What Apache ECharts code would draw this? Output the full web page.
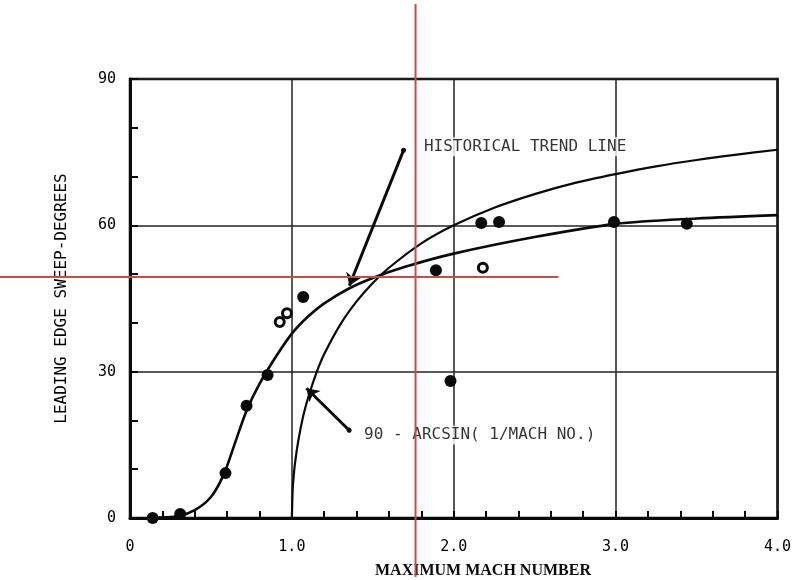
<!DOCTYPE html>
<html>
<head>
<meta charset="utf-8">
<script src="https://cdn.jsdelivr.net/npm/echarts@6/dist/echarts.min.js"></script>
<style>
  html, body { margin: 0; padding: 0; background: #fff; }
  #chart { width: 794px; height: 580px; }
</style>
</head>
<body>
<div id="chart"></div>
<script>
// Leading-edge sweep vs. maximum Mach number

const xTickLabels = ['0', '1.0', '2.0', '3.0', '4.0'];
const yTickLabels = ['0', '30', '60', '90'];

// Measured aircraft (filled symbols)
const filledMach  = [0.14, 0.31, 0.59, 0.72, 0.85, 1.07, 1.89, 1.98, 2.17, 2.28, 2.99, 3.44];
const filledSweep = [0.0, 0.8, 9.2, 23.0, 29.3, 45.3, 50.8, 28.1, 60.5, 60.7, 60.7, 60.3];

// Open symbols
const openMach  = [0.925, 0.97, 2.18];
const openSweep = [40.2, 42.0, 51.3];

// Historical trend line
const trendMach  = [0.13, 0.30, 0.40, 0.50, 0.58, 0.65, 0.72, 0.80, 0.90, 1.00, 1.10, 1.20, 1.35, 1.50, 1.70, 2.00, 2.50, 3.00, 3.50, 4.00];
const trendSweep = [0.0, 0.4, 1.6, 4.3, 9.0, 15.5, 22.0, 27.5, 33.0, 37.8, 41.3, 44.0, 47.0, 49.2, 51.5, 54.2, 57.6, 60.3, 61.4, 62.1];

// 90 - arcsin(1/M) curve
const machAngleMach  = [1.0, 1.005, 1.01, 1.02, 1.04, 1.07, 1.10, 1.15, 1.20, 1.30, 1.40, 1.50, 1.60, 1.80, 2.00, 2.25, 2.50, 2.75, 3.00, 3.25, 3.50, 3.75, 4.00];
const machAngleSweep = [0.0, 5.7, 8.1, 11.4, 15.9, 20.9, 24.6, 29.6, 33.6, 39.7, 44.4, 48.2, 51.3, 56.3, 60.0, 63.6, 66.4, 68.7, 70.5, 72.1, 73.4, 74.5, 75.5];

// Callout text and leader arrows (from label end to curve)
const trendLabel = { text: 'HISTORICAL TREND LINE', at: [1.81, 76.1] };
const angleLabel = { text: '90 - ARCSIN( 1/MACH NO.)', at: [1.44, 17.0] };
const trendArrow = [[1.69, 75.4], [1.355, 47.6]];
const angleArrow = [[1.354, 18.0], [1.09, 26.6]];

// Reading cross-hair (Mach, sweep) and the end of its horizontal arm
const crossMach = 1.764;
const crossSweep = 49.4;
const crossArmEnd = 2.646;

const zip = (a, b) => a.map((v, i) => [v, b[i]]);
const ink = '#0a0a0a';
const mono = '"DejaVu Sans Mono", "Liberation Mono", monospace';

const chart = echarts.init(document.getElementById('chart'), null, { renderer: 'canvas' });

const labelSeries = (item) => ({
  type: 'scatter',
  symbolSize: 0,
  silent: true,
  z: 4,
  data: [item.at],
  label: {
    show: true,
    position: 'right',
    distance: 0,
    formatter: item.text,
    fontFamily: mono,
    fontSize: 16,
    color: '#000',
    backgroundColor: '#fff',
    padding: [2, 1, 1, 1]
  }
});

const arrowSeries = (pts) => ({
  type: 'lines',
  coordinateSystem: 'cartesian2d',
  silent: true,
  z: 5,
  symbol: ['circle', 'arrow'],
  symbolSize: [5, 12],
  lineStyle: { color: ink, width: 3, opacity: 1 },
  data: [{ coords: pts }]
});

chart.setOption({
  animation: false,
  backgroundColor: '#fff',
  grid: {
    left: 130, right: 8, top: 79, bottom: 62,
    show: true, borderColor: ink, borderWidth: 2.5, backgroundColor: 'transparent'
  },
  title: {
    text: 'MAXIMUM MACH NUMBER',
    left: 478, top: 558, textAlign: 'center',
    textStyle: { fontFamily: '"Liberation Serif", "Times New Roman", serif', fontWeight: 'bold', fontSize: 16, color: ink }
  },
  xAxis: {
    type: 'value', min: 0, max: 4, interval: 1,
    axisLine: { show: true, lineStyle: { color: ink, width: 3 } },
    axisTick: { show: true, inside: true, length: 7, lineStyle: { color: ink, width: 2 } },
    minorTick: { show: true, splitNumber: 5, length: 7, lineStyle: { color: ink, width: 2 } },
    splitLine: { show: true, lineStyle: { color: '#222', width: 1.5 } },
    axisLabel: {
      margin: 22, fontFamily: mono, fontSize: 15, color: '#000',
      formatter: (v) => xTickLabels[Math.round(v)]
    }
  },
  yAxis: {
    type: 'value', min: 0, max: 90, interval: 30,
    name: 'LEADING EDGE SWEEP-DEGREES',
    nameLocation: 'middle', nameGap: 60, nameRotate: 90,
    nameTextStyle: { fontFamily: mono, fontSize: 16, color: '#000' },
    axisLine: { show: true, lineStyle: { color: ink, width: 3 } },
    axisTick: { show: true, inside: true, length: 8, lineStyle: { color: ink, width: 2 } },
    minorTick: { show: true, splitNumber: 3, length: 8, lineStyle: { color: ink, width: 2 } },
    splitLine: { show: true, lineStyle: { color: '#222', width: 1.5 } },
    axisLabel: {
      margin: 14, fontFamily: mono, fontSize: 15, color: '#000',
      formatter: (v) => yTickLabels[Math.round(v / 30)]
    }
  },
  series: [
    {
      name: 'Historical trend', type: 'line', smooth: 0.3, showSymbol: false, z: 3,
      lineStyle: { color: ink, width: 2.6 },
      data: zip(trendMach, trendSweep)
    },
    {
      name: '90 - arcsin(1/M)', type: 'line', smooth: 0.3, showSymbol: false, z: 3,
      lineStyle: { color: ink, width: 2.2 },
      data: zip(machAngleMach, machAngleSweep)
    },
    {
      name: 'Filled', type: 'scatter', symbol: 'circle', symbolSize: 12, z: 6,
      itemStyle: { color: ink, opacity: 1 },
      data: zip(filledMach, filledSweep)
    },
    {
      name: 'Open', type: 'scatter', symbol: 'circle', symbolSize: 9, z: 6,
      itemStyle: { color: '#fff', borderColor: ink, borderWidth: 3, opacity: 1 },
      data: zip(openMach, openSweep)
    },
    labelSeries(trendLabel),
    labelSeries(angleLabel),
    arrowSeries(trendArrow),
    arrowSeries(angleArrow)
  ]
});

// Cross-hair overlay, placed through the chart's own coordinate conversion
const cx = chart.convertToPixel({ gridIndex: 0 }, [crossMach, crossSweep]);
const armEnd = chart.convertToPixel({ gridIndex: 0 }, [crossArmEnd, crossSweep]);
const H = chart.getHeight();
const red = { stroke: '#c0504d', lineWidth: 2 };
chart.setOption({
  graphic: [
    { type: 'line', z: 100, silent: true, shape: { x1: cx[0], y1: 4, x2: cx[0], y2: H - 3 }, style: red },
    { type: 'line', z: 100, silent: true, shape: { x1: 0, y1: cx[1], x2: armEnd[0], y2: cx[1] }, style: red }
  ]
});
</script>
</body>
</html>
